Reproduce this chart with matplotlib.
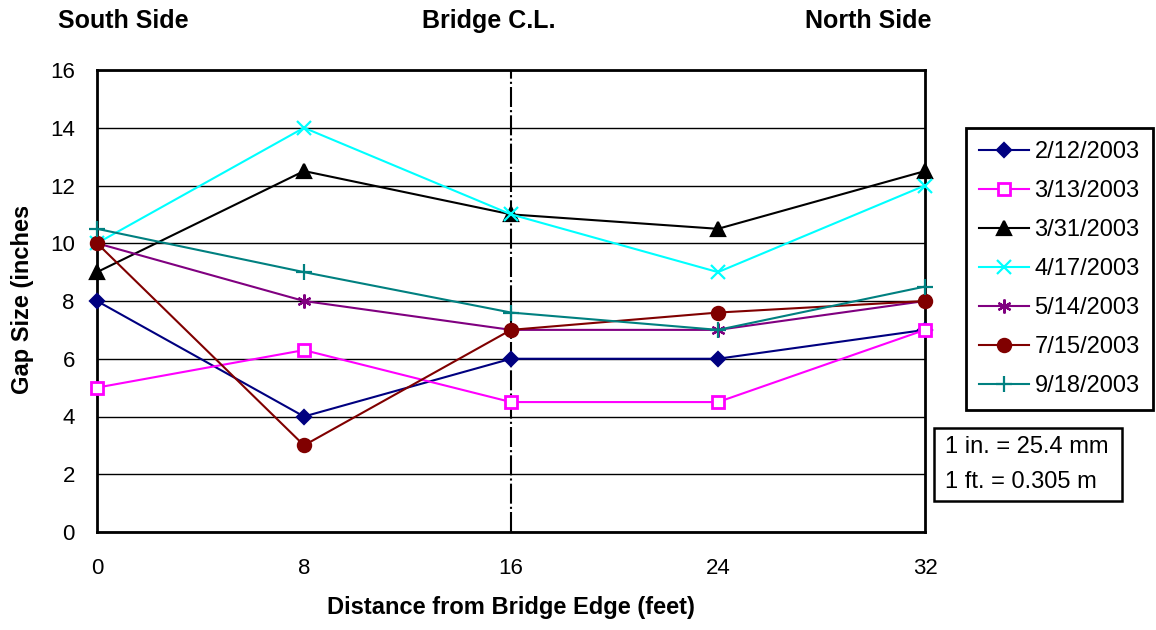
import matplotlib.pyplot as plt
from matplotlib.patches import Rectangle
from matplotlib.transforms import Bbox

plt.rcParams['font.family'] = ['Liberation Sans', 'DejaVu Sans']

# distance from bridge edge (feet)
distance = [0, 8, 16, 24, 32]

# gap size (inches) per survey date
dates = ['2/12/2003', '3/13/2003', '3/31/2003', '4/17/2003',
         '5/14/2003', '7/15/2003', '9/18/2003']
gap_0212 = [8, 4, 6, 6, 7]
gap_0313 = [5, 6.3, 4.5, 4.5, 7]
gap_0331 = [9, 12.5, 11, 10.5, 12.5]
gap_0417 = [10, 14, 11, 9, 12]
gap_0514 = [10, 8, 7, 7, 8]
gap_0715 = [10, 3, 7, 7.6, 8]
gap_0918 = [10.5, 9, 7.6, 7, 8.5]

y_ticks = [0, 2, 4, 6, 8, 10, 12, 14, 16]

series = [gap_0212, gap_0313, gap_0331, gap_0417, gap_0514, gap_0715, gap_0918]
colors = ['#000080', '#FF00FF', '#000000', '#00FFFF', '#800080', '#800000', '#008080']
markers = ['D', 's', '^', 'x', (6, 2, 0), 'o', '+']
msizes = [6.8, 8, 9.5, 9.5, 10, 9.5, 11]

W, H = 1156, 630
fig = plt.figure(figsize=(W / 100, H / 100), dpi=100)
ax = fig.add_axes([97 / W, 1 - 532 / H, 828 / W, 462 / H])

for vals, lab, c, m, s in zip(series, dates, colors, markers, msizes):
  face = 'white' if m == 's' else c
  ax.plot(distance, vals, color=c, lw=1.5, marker=m, ms=s,
          mfc=face, mec=c, mew=2 if m == 's' else 1.6, label=lab, clip_on=False, zorder=3)

# bridge centre line
ax.axvline(16, color='black', lw=1.5, linestyle=(0, (9.6, 1.5, 1, 1.5)), zorder=2)

ax.set_xlim(0, 32)
ax.set_ylim(0, 16)
ax.set_xticks(distance)
ax.set_yticks(y_ticks)
ax.grid(axis='y', color='black', lw=1)
for sp in ax.spines.values():
  sp.set_linewidth(2)
ax.tick_params(axis='both', labelsize=16, length=0)
ax.tick_params(axis='x', pad=19)
ax.tick_params(axis='y', pad=16)

ax.set_xlabel('Distance from Bridge Edge (feet)', fontsize=17, fontweight='bold', labelpad=12)

# y label is clipped at the top, as in the original
ylab = fig.text(23 / W, 1 - 295 / H, 'Gap Size (inches)', rotation=90, fontsize=17,
                fontweight='bold', ha='center', va='center')
ylab.set_clip_box(Bbox.from_extents(0, 0, 60, H - 207))
ylab.set_clip_on(True)

fig.text(123.5 / W, 0.967, 'South Side', fontsize=18, fontweight='bold', ha='center', va='center')
fig.text(489 / W, 0.967, 'Bridge C.L.', fontsize=18, fontweight='bold', ha='center', va='center')
fig.text(868 / W, 0.967, 'North Side', fontsize=18, fontweight='bold', ha='center', va='center')

leg = fig.legend(*ax.get_legend_handles_labels(), loc='upper left',
                 bbox_to_anchor=(966 / W, 1 - 128 / H), fontsize=17,
                 frameon=True, fancybox=False, edgecolor='black', framealpha=1,
                 handlelength=2.1, borderpad=0.55, labelspacing=0.72,
                 handletextpad=0.25, borderaxespad=0)
leg.get_frame().set_linewidth(2)

# unit conversion note
fig.add_artist(Rectangle((934 / W, 1 - 501 / H), 188 / W, 73 / H, transform=fig.transFigure,
                         fc='white', ec='black', lw=1.8))
fig.text(945 / W, 1 - 453 / H, '1 in. = 25.4 mm', fontsize=17, va='baseline')
fig.text(945 / W, 1 - 488 / H, '1 ft. = 0.305 m', fontsize=17, va='baseline')

fig.savefig('out.png', dpi=100)
